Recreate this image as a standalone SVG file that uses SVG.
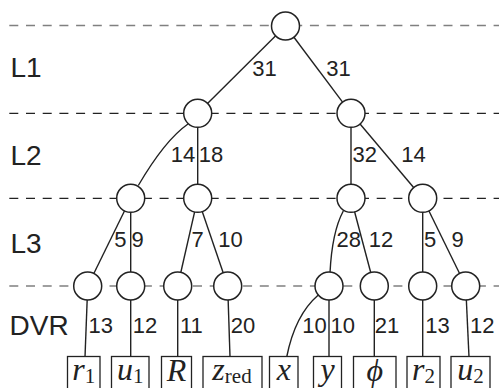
<svg xmlns="http://www.w3.org/2000/svg" width="499" height="388" viewBox="0 0 499 388">
<style>
.bg{fill:#fff}
.dash{stroke-width:1.3;stroke-dasharray:9 7.7;fill:none}
.dk{stroke:#222}
.gr{stroke:#808080}
.edge{stroke:#222;stroke-width:1.4;fill:none}
.node{fill:#fff;stroke:#222;stroke-width:1.5}
.box{fill:#fff;stroke:#222;stroke-width:1.3}
.lay{font-family:"Liberation Sans",Arial,sans-serif;font-size:28px;fill:#222}
.lbl{font-family:"Liberation Sans",Arial,sans-serif;font-size:22px;fill:#222;text-anchor:middle}
.math{font-family:"Liberation Serif","DejaVu Serif",serif;font-size:32px;fill:#222;text-anchor:middle}
.mi{font-style:italic}
.sub{font-size:21px;font-style:normal}
</style>
<rect class="bg" x="0" y="0" width="499" height="388"/>
<g id="layers">
<line class="dash gr" x1="9.3" y1="25.5" x2="499" y2="25.5"/>
<line class="dash dk" x1="9.3" y1="113.3" x2="499" y2="113.3"/>
<line class="dash dk" x1="9.3" y1="198.3" x2="499" y2="198.3"/>
<line class="dash gr" x1="9.3" y1="286" x2="499" y2="286"/>
<text class="lay" x="10.5" y="76.5">L1</text>
<text class="lay" x="10.5" y="164.5">L2</text>
<text class="lay" x="10.5" y="252.5">L3</text>
<text class="lay" x="9.5" y="335">DVR</text>
</g>
<g id="connectors">
<line class="edge" x1="285.5" y1="26" x2="197.7" y2="113.3"/>
<line class="edge" x1="285.5" y1="26" x2="351" y2="113.3"/>
<path class="edge" d="M188,124 Q165,140 138.3,185.5"/>
<line class="edge" x1="197.7" y1="113.3" x2="197.7" y2="198.3"/>
<line class="edge" x1="351" y1="113.3" x2="351" y2="198.3"/>
<line class="edge" x1="351" y1="113.3" x2="422.7" y2="198.3"/>
<line class="edge" x1="130.7" y1="198.3" x2="87.7" y2="286"/>
<line class="edge" x1="130.7" y1="198.3" x2="130.7" y2="286"/>
<line class="edge" x1="197.7" y1="198.3" x2="177.7" y2="286"/>
<line class="edge" x1="197.7" y1="198.3" x2="227.7" y2="286"/>
<path class="edge" d="M343.3,211 Q332,232 330,273"/>
<line class="edge" x1="351" y1="198.3" x2="374.3" y2="286"/>
<line class="edge" x1="422.7" y1="198.3" x2="422.7" y2="286"/>
<line class="edge" x1="422.7" y1="198.3" x2="465.7" y2="286"/>
<line class="edge" x1="87.7" y1="286" x2="85" y2="357"/>
<line class="edge" x1="130.7" y1="286" x2="130.7" y2="357"/>
<line class="edge" x1="177.7" y1="286" x2="177.7" y2="357"/>
<line class="edge" x1="227.7" y1="286" x2="230" y2="357"/>
<path class="edge" d="M318.3,295 Q295,315 286.7,357"/>
<line class="edge" x1="329" y1="286" x2="329" y2="357"/>
<line class="edge" x1="374.3" y1="286" x2="374.3" y2="357"/>
<line class="edge" x1="422.7" y1="286" x2="422.7" y2="357"/>
<line class="edge" x1="465.7" y1="286" x2="469" y2="357"/>
<text class="lbl" x="264.5" y="76">31</text>
<text class="lbl" x="338.5" y="76">31</text>
<text class="lbl" x="183" y="162.3">14</text>
<text class="lbl" x="211" y="162.3">18</text>
<text class="lbl" x="364.7" y="162.3">32</text>
<text class="lbl" x="413.5" y="162.3">14</text>
<text class="lbl" x="120.3" y="246.7">5</text>
<text class="lbl" x="137.5" y="246.7">9</text>
<text class="lbl" x="197.5" y="246.7">7</text>
<text class="lbl" x="230.5" y="246.7">10</text>
<text class="lbl" x="348.7" y="246.7">28</text>
<text class="lbl" x="381" y="246.7">12</text>
<text class="lbl" x="430" y="246.7">5</text>
<text class="lbl" x="457.5" y="246.7">9</text>
<text class="lbl" x="100.8" y="333.3">13</text>
<text class="lbl" x="145" y="333.3">12</text>
<text class="lbl" x="191.3" y="333.3">11</text>
<text class="lbl" x="243" y="333.3">20</text>
<text class="lbl" x="314.5" y="333.3">10</text>
<text class="lbl" x="342.7" y="333.3">10</text>
<text class="lbl" x="387" y="333.3">21</text>
<text class="lbl" x="437.4" y="333.3">13</text>
<text class="lbl" x="482.2" y="333.3">12</text>
</g>
<g id="root"><circle class="node" cx="285.5" cy="26" r="14"/></g>
<g id="n-l2a"><circle class="node" cx="197.7" cy="113.3" r="14"/></g>
<g id="n-l2b"><circle class="node" cx="351" cy="113.3" r="14"/></g>
<g id="n-l3a"><circle class="node" cx="130.7" cy="198.3" r="14"/></g>
<g id="n-l3b"><circle class="node" cx="197.7" cy="198.3" r="14"/></g>
<g id="n-l3c"><circle class="node" cx="351" cy="198.3" r="14"/></g>
<g id="n-l3d"><circle class="node" cx="422.7" cy="198.3" r="14"/></g>
<g id="d1"><circle class="node" cx="87.7" cy="286" r="14"/></g>
<g id="d2"><circle class="node" cx="130.7" cy="286" r="14"/></g>
<g id="d3"><circle class="node" cx="177.7" cy="286" r="14"/></g>
<g id="d4"><circle class="node" cx="227.7" cy="286" r="14"/></g>
<g id="d5"><circle class="node" cx="329" cy="286" r="14"/></g>
<g id="d6"><circle class="node" cx="374.3" cy="286" r="14"/></g>
<g id="d7"><circle class="node" cx="422.7" cy="286" r="14"/></g>
<g id="d8"><circle class="node" cx="465.7" cy="286" r="14"/></g>
<g id="b-r1"><rect class="box" x="67.5" y="356.5" width="32.5" height="45"/><text class="math" x="83.75" y="380"><tspan class="mi">r</tspan><tspan class="sub" dy="3">1</tspan></text></g>
<g id="b-u1"><rect class="box" x="111.5" y="356.5" width="37.5" height="45"/><text class="math" x="130.25" y="380"><tspan class="mi">u</tspan><tspan class="sub" dy="3">1</tspan></text></g>
<g id="b-R"><rect class="box" x="161.5" y="356.5" width="30" height="45"/><text class="math mi" x="176.5" y="381">R</text></g>
<g id="b-zred"><rect class="box" x="203" y="356.5" width="59" height="45"/><text class="math" x="232" y="380"><tspan class="mi">z</tspan><tspan class="sub" dy="3">red</tspan></text></g>
<g id="b-x"><rect class="box" x="269.5" y="356.5" width="28.5" height="45"/><text class="math mi" x="283.75" y="380">x</text></g>
<g id="b-y"><rect class="box" x="313.5" y="356.5" width="28" height="45"/><text class="math mi" x="327.5" y="380">y</text></g>
<g id="b-phi"><rect class="box" x="353.5" y="356.5" width="42.5" height="45"/><text class="math mi" x="374.75" y="381">ϕ</text></g>
<g id="b-r2"><rect class="box" x="407" y="356.5" width="33" height="45"/><text class="math" x="423.5" y="380"><tspan class="mi">r</tspan><tspan class="sub" dy="3">2</tspan></text></g>
<g id="b-u2"><rect class="box" x="451" y="356.5" width="39" height="45"/><text class="math" x="470.5" y="380"><tspan class="mi">u</tspan><tspan class="sub" dy="3">2</tspan></text></g>
</svg>
